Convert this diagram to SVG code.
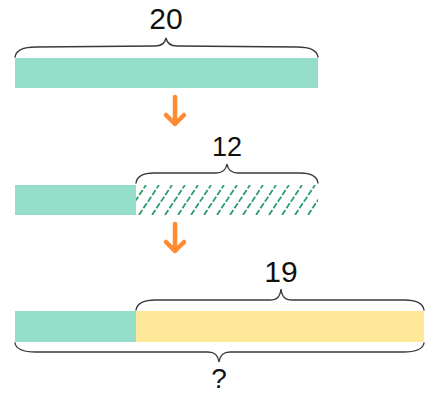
<svg xmlns="http://www.w3.org/2000/svg" width="427" height="394" viewBox="0 0 427 394">
<style>
.teal{fill:#95dec9}
.yellow{fill:#ffe999}
.brace{fill:none;stroke:#3a3a3a;stroke-width:1.4;stroke-linecap:round}
.arrow{fill:none;stroke:#ff8a32;stroke-width:4.5;stroke-linecap:round;stroke-linejoin:round}
.lbl{font-family:"Liberation Sans","DejaVu Sans",sans-serif;fill:#111;text-anchor:middle}
</style>
<defs>
<pattern id="hatch" patternUnits="userSpaceOnUse" x="136" y="185" width="13" height="30">
<line x1="-10" y1="30" x2="10" y2="0" stroke="#2a9a6c" stroke-width="1.8" stroke-dasharray="6 2"/>
<line x1="3" y1="30" x2="23" y2="0" stroke="#2a9a6c" stroke-width="1.8" stroke-dasharray="6 2"/>
</pattern>
</defs>
<g id="bar1">
<rect class="teal" x="15" y="58" width="303" height="30"/>
<path class="brace" d="M15,57 C16,50 24,47 36,47 L155,46 C162,46 165,43 166,38 C167,43 170,46 177,46 L297,47 C309,47 317,50 318,57"/>
<text class="lbl" x="166" y="29" font-size="30">20</text>
</g>
<g id="bar2">
<rect class="teal" x="15" y="185" width="121" height="30"/>
<rect x="136" y="185" width="182" height="30" fill="url(#hatch)"/>
<path class="brace" d="M136,183 C137,176 144,173 154,173 L216,173 C223,173 226,170 227,164 C228,170 231,173 238,173 L300,173 C310,173 317,176 318,183"/>
<text class="lbl" x="227" y="156" font-size="27">12</text>
</g>
<g id="bar3">
<rect class="teal" x="15" y="311" width="121" height="31"/>
<rect class="yellow" x="136" y="311" width="288" height="31"/>
<path class="brace" d="M136,310 C137,303 144,300 156,300 L270,300 C277,300 280,297 281,289 C282,297 285,300 292,300 L404,300 C416,300 423,303 424,310"/>
<text class="lbl" x="281" y="282" font-size="30">19</text>
<path class="brace" d="M15,343 C16,349 24,352 36,352 L208,352 C215,352 218,355 219,362 C220,355 223,352 230,352 L403,352 C415,352 423,349 424,343"/>
<text class="lbl" x="219" y="388" font-size="28">?</text>
</g>
<g id="connectors">
<path class="arrow" d="M175,97 L175,124 M166,115 L175,124 L184,115"/>
<path class="arrow" d="M175,224 L175,251 M166,242 L175,251 L184,242"/>
</g>
</svg>
